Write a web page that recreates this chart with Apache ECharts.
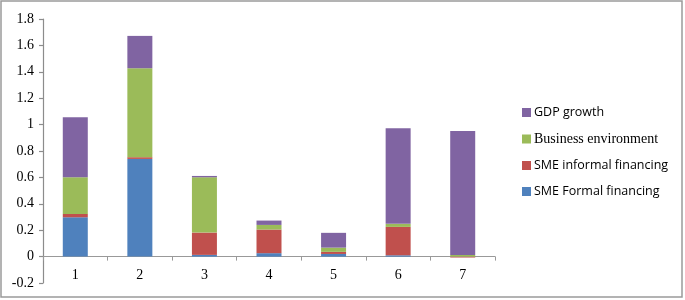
<!DOCTYPE html>
<html>
<head>
<meta charset="utf-8">
<script src="https://cdn.jsdelivr.net/npm/echarts@6/dist/echarts.min.js"></script>
<style>
  html, body { margin: 0; padding: 0; background: #fff; }
  #chart { width: 685px; height: 300px; }
</style>
</head>
<body>
<div id="chart"></div>
<script>
// data
var categories = ['1', '2', '3', '4', '5', '6', '7'];
var smeFormal = [0.298, 0.740, 0.013, 0.026, 0.020, 0.010, 0.000];
var smeInformal = [0.025, 0.013, 0.169, 0.179, 0.016, 0.215, -0.007];
var businessEnv = [0.278, 0.674, 0.419, 0.035, 0.032, 0.023, 0.013];
var gdpGrowth = [0.455, 0.245, 0.010, 0.033, 0.112, 0.725, 0.939];
var yTicks = { min: -0.2, max: 1.8, step: 0.2 };

var gridTop = 19, gridBottom = 17;
var chart = echarts.init(document.getElementById('chart'));

// the x axis sits on zero; move the whole axis (line, ticks, labels) up to it
var plotH = 300 - gridTop - gridBottom;
var zeroOffset = -plotH * (0 - yTicks.min) / (yTicks.max - yTicks.min);

function barSeries(name, data, color) {
    return {
        name: name,
        type: 'bar',
        stack: 'total',
        data: data,
        barWidth: 25,
        itemStyle: { color: color }
    };
}

var option = {
    animation: false,
    graphic: [{
        type: 'rect',
        shape: { x: 1, y: 1, width: 681, height: 296 },
        style: { fill: 'none', stroke: '#9a9a9a', lineWidth: 1.5 },
        silent: true
    }],
    grid: { left: 43, right: 190, top: gridTop, bottom: gridBottom },
    legend: {
        orient: 'vertical',
        left: 517,
        top: 101,
        itemWidth: 9,
        itemHeight: 9,
        itemGap: 13,
        icon: 'rect',
        textStyle: { fontFamily: 'Open Sans', fontSize: 12.5, color: '#000', padding: [0, 0, 0, -2] },
        data: [
            { name: 'GDP growth' },
            { name: 'Business environment', textStyle: { fontFamily: 'Liberation Serif', fontSize: 14 } },
            { name: 'SME informal financing' },
            { name: 'SME Formal financing' }
        ]
    },
    xAxis: {
        type: 'category',
        data: categories,
        offset: zeroOffset,
        axisLine: { onZero: false, lineStyle: { color: '#999', width: 1 } },
        axisTick: { show: true, alignWithLabel: false, length: 4, inside: false, lineStyle: { color: '#999' } },
        axisLabel: { fontFamily: 'Liberation Serif', fontSize: 14, color: '#000', margin: 12 }
    },
    yAxis: {
        type: 'value',
        min: yTicks.min,
        max: yTicks.max,
        interval: yTicks.step,
        splitLine: { show: false },
        axisLine: { show: true, lineStyle: { color: '#8c8c8c', width: 1.2 } },
        axisTick: { show: true, length: 4, lineStyle: { color: '#8c8c8c', width: 1.2 } },
        axisLabel: {
            fontFamily: 'Liberation Serif', fontSize: 14, color: '#000', margin: 9,
            formatter: function (v) { return String(Math.round(v * 10) / 10); }
        }
    },
    series: [
        barSeries('SME Formal financing', smeFormal, '#4f81bd'),
        barSeries('SME informal financing', smeInformal, '#c0504d'),
        barSeries('Business environment', businessEnv, '#9bbb59'),
        barSeries('GDP growth', gdpGrowth, '#8064a2')
    ]
};

chart.setOption(option);
</script>
</body>
</html>
